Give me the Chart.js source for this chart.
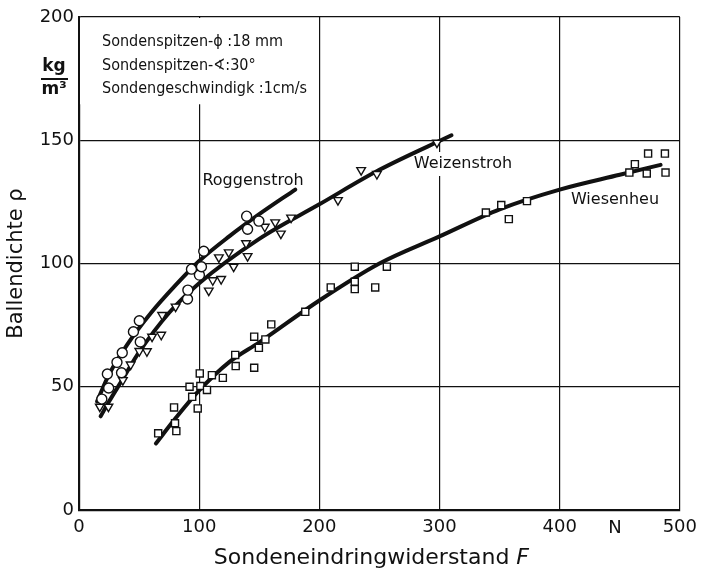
<!DOCTYPE html>
<html lang="de">
<head>
<meta charset="utf-8">
<title>Ballendichte</title>
<script src="https://cdn.jsdelivr.net/npm/chart.js@4.4.0/dist/chart.umd.min.js"></script>
<style>
  html, body { margin: 0; padding: 0; background: #fff; }
  #wrap { width: 704px; height: 571px; }
</style>
</head>
<body>
<div id="wrap"><canvas id="chart" width="704" height="571"></canvas></div>
<script>
// Messpunkte [F in N, Dichte in kg/m3]
const roggenPunkte = [
  [19, 45], [23.6, 55.2], [24.7, 49.5], [31.6, 59.9], [35.4, 55.7], [36, 63.8],
  [45.3, 72.3], [50.2, 76.8], [51, 68.2], [90.3, 85.6], [90.6, 89.2], [93.6, 97.7],
  [100.2, 95.3], [101.9, 98.7], [103.8, 105], [139.5, 119.2], [140.3, 113.9], [149.7, 117.2]
];
const weizenPunkte = [
  [17.3, 41.9], [24.5, 41.9], [36.5, 52.7], [43, 59], [50.2, 64.5], [56.5, 64.4],
  [60.8, 70.3], [68.4, 71.1], [69.2, 79.1], [80.4, 82.5], [108, 89], [111.3, 93.2],
  [118.3, 93.7], [116.4, 102.5], [124.6, 104.5], [128.7, 98.7], [140.3, 103], [139, 108.2],
  [154.6, 114.9], [163.3, 116.7], [168, 112.1], [176.5, 118.6], [215.5, 125.7],
  [234.8, 137.9], [247.9, 136.3], [297.9, 149]
];
const wiesenPunkte = [
  [65.9, 31.1], [81, 32], [79.9, 35.2], [79.1, 41.6], [98.8, 41.2], [94.2, 45.9],
  [92, 50], [101, 50.3], [100.5, 55.4], [106.5, 48.7], [110.6, 54.7], [119.7, 53.6],
  [130.4, 58.4], [130, 62.9], [145.8, 57.7], [149.7, 65.8], [155.1, 69.2], [145.8, 70.3],
  [160, 75.3], [188.3, 80.4], [209.5, 90.3], [229.5, 98.7], [229.5, 92.6], [229.5, 89.6],
  [246.5, 90.3], [256.2, 98.7], [338.6, 120.7], [351.4, 123.7], [357.7, 118], [372.8, 125.3],
  [458, 136.9], [462.6, 140.3], [473.6, 144.6], [472.5, 136.5], [487.6, 144.6], [488.1, 136.9]
];

// Ausgleichskurven
const roggenKurve = [[15, 44], [25, 55], [40, 67], [60, 80], [80, 91], [100, 101], [125, 111], [150, 120], [180, 130]];
const weizenKurve = [[18, 38], [25, 44], [35, 52], [50, 64], [75, 80], [100, 92], [150, 110], [200, 124], [250, 138], [310, 152]];
const wiesenKurve = [[64, 27], [80, 37], [100, 48.5], [125, 60], [150, 68], [200, 85], [250, 100], [300, 111], [350, 122], [400, 130], [450, 136], [484, 140]];

const xTicks = [0, 100, 200, 300, 400, 500];
const yTicks = [0, 50, 100, 150, 200];

const infoZeilen = ['Sondenspitzen-\u03d5 :18 mm', 'Sondenspitzen-\u2222:30°', 'Sondengeschwindigk :1cm/s'];

const FONT = '"DejaVu Sans", "Liberation Sans", sans-serif';
const FONT_SCHMAL = '"DejaVu Sans Condensed", "DejaVu Sans", sans-serif';
const INK = '#111';

function kurve(daten) {
  return {
    data: daten,
    showLine: true,
    borderColor: INK,
    borderWidth: 4,
    pointRadius: 0,
    tension: 0.4,
    cubicInterpolationMode: 'monotone',
    borderCapStyle: 'round',
    order: 2
  };
}

function punkte(daten, style, radius, rotation) {
  return {
    data: daten,
    showLine: false,
    pointStyle: style,
    pointRadius: radius,
    rotation: rotation || 0,
    pointBorderWidth: 1.4,
    pointBorderColor: INK,
    pointBackgroundColor: '#fff',
    order: 1
  };
}

// Beschriftungen im Diagramm
const beschriftung = {
  id: 'beschriftung',
  beforeDatasetsDraw(chart) {
    const { ctx } = chart;
    const x = chart.scales.x, y = chart.scales.y;
    ctx.save();
    ctx.fillStyle = '#fff';
    // Feld fuer den Infotext bleibt frei
    ctx.fillRect(x.left + 1, y.top + 1, x.getPixelForValue(190) - x.left, y.getPixelForValue(165) - y.top);
    // Gitterlinie hinter "Weizenstroh" unterbrochen
    ctx.fillRect(412, 152, 102, 24);
    ctx.restore();
  },
  afterDraw(chart) {
    const { ctx } = chart;
    const x = chart.scales.x, y = chart.scales.y;
    ctx.save();
    ctx.fillStyle = INK;
    ctx.strokeStyle = INK;
    ctx.textBaseline = 'middle';

    ctx.font = '16px ' + FONT_SCHMAL;
    ctx.textAlign = 'left';
    infoZeilen.forEach((z, i) => ctx.fillText(z, 102, 42 + i * 23.5));

    ctx.font = '16px ' + FONT;
    ctx.textAlign = 'center';
    ctx.fillText('Roggenstroh', 253, 181);
    ctx.fillText('Weizenstroh', 463, 164);
    ctx.fillText('Wiesenheu', 615, 200);

    // Einheit links oben
    ctx.font = 'bold 17px ' + FONT;
    ctx.fillText('kg', 54, 67);
    ctx.fillText('m³', 54, 90);
    ctx.lineWidth = 2;
    ctx.beginPath();
    ctx.moveTo(41, 79);
    ctx.lineTo(68, 79);
    ctx.stroke();

    ctx.font = '18px ' + FONT;
    ctx.fillText('N', x.getPixelForValue(446), 528);

    // Achsentitel
    ctx.font = '21px ' + FONT;
    ctx.save();
    ctx.translate(17, (y.top + y.bottom) / 2);
    ctx.rotate(-Math.PI / 2);
    ctx.fillText('Ballendichte \u03c1', 0, 0);
    ctx.restore();

    const teil1 = 'Sondeneindringwiderstand ';
    ctx.font = '22px ' + FONT;
    const b1 = ctx.measureText(teil1).width;
    ctx.font = 'italic 22px ' + FONT;
    const b2 = ctx.measureText('F').width;
    const start = (x.left + x.right) / 2 - (b1 + b2) / 2 - 8;
    ctx.textAlign = 'left';
    ctx.font = '22px ' + FONT;
    ctx.fillText(teil1, start, 558);
    ctx.font = 'italic 22px ' + FONT;
    ctx.fillText('F', start + b1, 558);
    ctx.restore();
  }
};

new Chart(document.getElementById('chart'), {
  type: 'scatter',
  data: {
    datasets: [
      kurve(roggenKurve),
      kurve(weizenKurve),
      kurve(wiesenKurve),
      punkte(roggenPunkte, 'circle', 5),
      punkte(weizenPunkte, 'triangle', 5, 180),
      punkte(wiesenPunkte, 'rect', 5)
    ]
  },
  options: {
    responsive: false,
    animation: false,
    layout: { padding: { top: 17, right: 18, left: 0, bottom: 0 } },
    plugins: {
      legend: { display: false },
      tooltip: { enabled: false }
    },
    scales: {
      x: {
        type: 'linear',
        min: xTicks[0],
        max: xTicks[xTicks.length - 1],
        afterBuildTicks: (s) => { s.ticks = xTicks.map(v => ({ value: v })); },
        afterFit: (s) => { s.height = 61; },
        grid: { color: INK, lineWidth: 1.2, drawTicks: false },
        border: { color: INK, width: 2.2 },
        ticks: { color: INK, font: { family: FONT, size: 18 }, padding: 7, maxRotation: 0 }
      },
      y: {
        type: 'linear',
        min: yTicks[0],
        max: yTicks[yTicks.length - 1],
        afterBuildTicks: (s) => { s.ticks = yTicks.map(v => ({ value: v })); },
        afterFit: (s) => { s.width = 79; },
        grid: { color: INK, lineWidth: 1.2, drawTicks: false },
        border: { color: INK, width: 2.2 },
        ticks: { color: INK, font: { family: FONT, size: 18 }, padding: 5 }
      }
    }
  },
  plugins: [beschriftung]
});
</script>
</body>
</html>
